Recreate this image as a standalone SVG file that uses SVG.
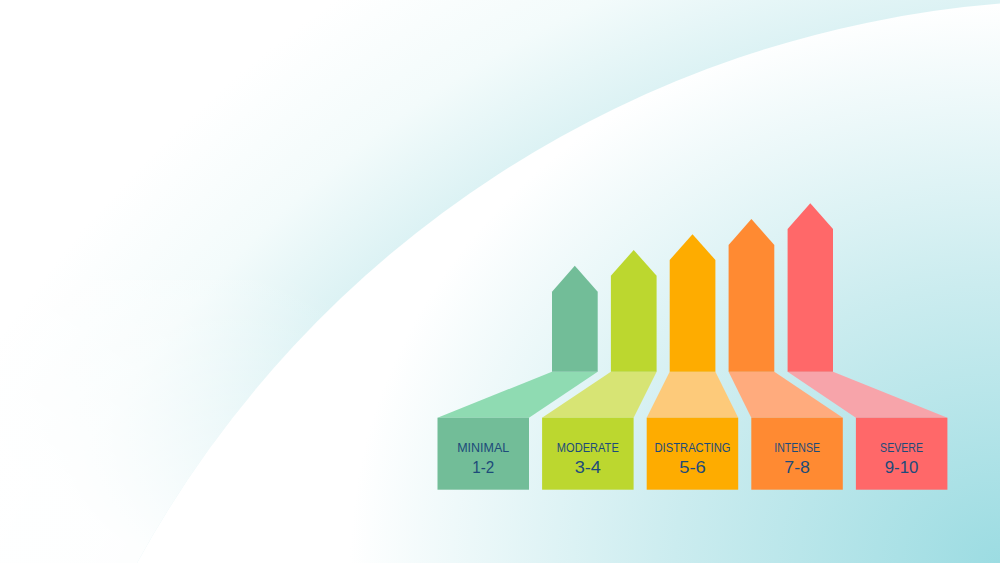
<svg xmlns="http://www.w3.org/2000/svg" width="1000" height="563" viewBox="0 0 1000 563">
<defs>
<radialGradient id="outerGrad" gradientUnits="userSpaceOnUse" cx="1088" cy="1084" r="1320">
<stop offset="0.8" stop-color="#d6f0f2"/>
<stop offset="0.821" stop-color="#dcf2f4"/>
<stop offset="0.9" stop-color="#f3fbfb"/>
<stop offset="1" stop-color="#ffffff"/>
</radialGradient>
<linearGradient id="fadeGrad" gradientUnits="userSpaceOnUse" x1="330" y1="300" x2="150" y2="560">
<stop offset="0" stop-color="#ffffff" stop-opacity="0"/>
<stop offset="1" stop-color="#ffffff" stop-opacity="0.95"/>
</linearGradient>
<radialGradient id="innerGrad" gradientUnits="userSpaceOnUse" cx="1000" cy="563" r="650" gradientTransform="translate(1000 563) scale(1 0.86) translate(-1000 -563)">
<stop offset="0" stop-color="#9cdce2"/>
<stop offset="0.5" stop-color="#cbecef"/>
<stop offset="1" stop-color="#ffffff"/>
</radialGradient>
<clipPath id="outside">
<path d="M0,0 H1000 V563 H0 Z M137,563 A1084,1084 0 0 1 1000,3.6 V563 Z" clip-rule="evenodd"/>
</clipPath>
<style>
.lbl{font-family:"Liberation Sans",Arial,sans-serif;font-size:13px;fill:#1d4b7a;text-anchor:middle}
.num{font-family:"Liberation Sans",Arial,sans-serif;font-size:17px;fill:#1d4b7a;text-anchor:middle}
</style>
</defs>
<g id="background">
<rect x="0" y="0" width="1000" height="563" fill="url(#outerGrad)"/>
<path d="M137,563 A1084,1084 0 0 1 1000,3.6 V563 Z" fill="url(#innerGrad)"/>
<rect x="0" y="280" width="380" height="283" fill="url(#fadeGrad)" clip-path="url(#outside)"/>
</g>
<g id="connectors"/>
<g id="node-minimal">
<polygon points="552,371.7 597.7,371.7 529,417.7 437.5,417.7" fill="#8fdbb2"/>
<polygon points="552,371.7 552,291.7 574.8,265.7 597.7,291.7 597.7,371.7" fill="#72bd98"/>
<rect x="437.5" y="417.7" width="91.5" height="72" fill="#72bd98"/>
<text class="lbl" x="483.2" y="451.7" textLength="52" lengthAdjust="spacingAndGlyphs">MINIMAL</text>
<text class="num" x="483.2" y="472.7" textLength="22" lengthAdjust="spacingAndGlyphs">1-2</text>
</g>
<g id="node-moderate">
<polygon points="610.9,371.7 656.6,371.7 633.6,417.7 542.1,417.7" fill="#d7e474"/>
<polygon points="610.9,371.7 610.9,275.7 633.7,250 656.6,275.7 656.6,371.7" fill="#bcd72f"/>
<rect x="542.1" y="417.7" width="91.5" height="72" fill="#bcd72f"/>
<text class="lbl" x="587.8" y="451.7" textLength="62" lengthAdjust="spacingAndGlyphs">MODERATE</text>
<text class="num" x="587.8" y="472.7" textLength="26.3" lengthAdjust="spacingAndGlyphs">3-4</text>
</g>
<g id="node-distracting">
<polygon points="669.7,371.7 715.4,371.7 738.2,417.7 646.7,417.7" fill="#fdca7a"/>
<polygon points="669.7,371.7 669.7,260 692.5,234.3 715.4,260 715.4,371.7" fill="#feac00"/>
<rect x="646.7" y="417.7" width="91.5" height="72" fill="#feac00"/>
<text class="lbl" x="692.5" y="451.7" textLength="76" lengthAdjust="spacingAndGlyphs">DISTRACTING</text>
<text class="num" x="692.5" y="472.7" textLength="26.7" lengthAdjust="spacingAndGlyphs">5-6</text>
</g>
<g id="node-intense">
<polygon points="728.6,371.7 774.3,371.7 842.8,417.7 751.3,417.7" fill="#ffab7d"/>
<polygon points="728.6,371.7 728.6,245 751.4,219 774.3,245 774.3,371.7" fill="#ff8a32"/>
<rect x="751.3" y="417.7" width="91.5" height="72" fill="#ff8a32"/>
<text class="lbl" x="797.1" y="451.7" textLength="45.7" lengthAdjust="spacingAndGlyphs">INTENSE</text>
<text class="num" x="797.1" y="472.7" textLength="25.7" lengthAdjust="spacingAndGlyphs">7-8</text>
</g>
<g id="node-severe">
<polygon points="787.6,371.7 833,371.7 947.4,417.7 855.9,417.7" fill="#f7a4aa"/>
<polygon points="787.6,371.7 787.6,229 810.3,203.3 833,229 833,371.7" fill="#ff6869"/>
<rect x="855.9" y="417.7" width="91.5" height="72" fill="#ff6869"/>
<text class="lbl" x="901.6" y="451.7" textLength="43" lengthAdjust="spacingAndGlyphs">SEVERE</text>
<text class="num" x="901.6" y="472.7" textLength="33.7" lengthAdjust="spacingAndGlyphs">9-10</text>
</g>
</svg>
